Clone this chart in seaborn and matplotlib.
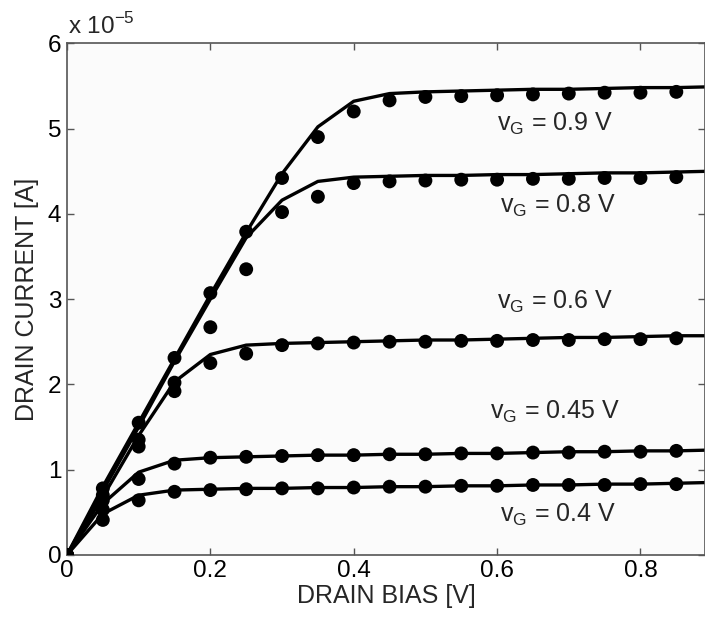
import numpy as np
import pandas as pd
import matplotlib
matplotlib.use("Agg")
import matplotlib.pyplot as plt
import seaborn as sns

# ---- data (current in units of 1e-5 A) ----
gate_labels = ["0.9", "0.8", "0.6", "0.45", "0.4"]

x_model = [0.0, 0.05, 0.1, 0.15, 0.2, 0.25, 0.3, 0.35, 0.4, 0.45,
           0.5, 0.55, 0.6, 0.65, 0.7, 0.75, 0.8, 0.85, 0.9]
model_09 = [0, 0.80, 1.55, 2.30, 3.05, 3.78, 4.47, 5.02, 5.32, 5.41,
            5.43, 5.44, 5.45, 5.46, 5.46, 5.47, 5.48, 5.48, 5.49]
model_08 = [0, 0.75, 1.50, 2.27, 3.00, 3.72, 4.16, 4.38, 4.43, 4.44,
            4.45, 4.45, 4.46, 4.46, 4.47, 4.48, 4.48, 4.49, 4.50]
model_06 = [0, 0.68, 1.40, 2.03, 2.35, 2.46, 2.48, 2.49, 2.50, 2.51,
            2.52, 2.52, 2.53, 2.54, 2.55, 2.55, 2.56, 2.57, 2.57]
model_045 = [0, 0.60, 0.97, 1.11, 1.14, 1.15, 1.16, 1.17, 1.17, 1.18,
             1.18, 1.19, 1.19, 1.20, 1.21, 1.21, 1.22, 1.22, 1.23]
model_04 = [0, 0.48, 0.70, 0.76, 0.77, 0.78, 0.78, 0.79, 0.79, 0.80,
            0.80, 0.81, 0.81, 0.82, 0.82, 0.83, 0.83, 0.84, 0.85]

x_meas = [0.0, 0.05, 0.1, 0.15, 0.2, 0.25, 0.3, 0.35, 0.4, 0.45,
          0.5, 0.55, 0.6, 0.65, 0.7, 0.75, 0.8, 0.85]
meas_09 = [0, 0.78, 1.55, 2.31, 3.07, 3.79, 4.42, 4.90, 5.20, 5.33,
           5.37, 5.38, 5.39, 5.40, 5.41, 5.42, 5.42, 5.43]
meas_08 = [0, 0.70, 1.35, 1.92, 2.67, 3.35, 4.02, 4.20, 4.36, 4.38,
           4.39, 4.40, 4.40, 4.41, 4.41, 4.42, 4.42, 4.43]
meas_06 = [0, 0.64, 1.27, 2.02, 2.25, 2.36, 2.46, 2.48, 2.49, 2.50,
           2.50, 2.51, 2.51, 2.52, 2.52, 2.53, 2.53, 2.54]
meas_045 = [0, 0.53, 0.89, 1.07, 1.14, 1.15, 1.16, 1.17, 1.17, 1.18,
            1.18, 1.19, 1.19, 1.20, 1.20, 1.21, 1.21, 1.22]
meas_04 = [0, 0.41, 0.64, 0.74, 0.76, 0.77, 0.78, 0.78, 0.79, 0.80,
           0.80, 0.81, 0.81, 0.82, 0.82, 0.82, 0.83, 0.83]

label_x = [0.68, 0.685, 0.68, 0.68, 0.685]
label_y = [5.06, 4.09, 2.97, 1.68, 0.47]

x_ticks = [0, 0.2, 0.4, 0.6, 0.8]
y_ticks = [0, 1, 2, 3, 4, 5, 6]

models = [model_09, model_08, model_06, model_045, model_04]
meas = [meas_09, meas_08, meas_06, meas_045, meas_04]

df_model = pd.concat([pd.DataFrame({"x": x_model, "y": m, "vg": g})
                      for m, g in zip(models, gate_labels)], ignore_index=True)
df_meas = pd.concat([pd.DataFrame({"x": x_meas, "y": m, "vg": g})
                     for m, g in zip(meas, gate_labels)], ignore_index=True)

sns.set_theme(style="white")
plt.rcParams["font.family"] = ["Liberation Sans", "DejaVu Sans"]
plt.rcParams["mathtext.fontset"] = "custom"
plt.rcParams["mathtext.rm"] = "Liberation Sans"

fig = plt.figure(figsize=(7.05, 6.27), dpi=100)
ax = fig.add_axes([0.095, 0.115, 0.905, 0.816])
ax.set_facecolor("#fbfbfb")

pal = {g: "black" for g in gate_labels}
sns.lineplot(data=df_model, x="x", y="y", hue="vg", palette=pal,
             linewidth=2.4, legend=False, ax=ax, sort=True, estimator=None)
sns.scatterplot(data=df_meas, x="x", y="y", hue="vg", palette=pal,
                s=100, edgecolor="none", legend=False, ax=ax, zorder=3)

ax.set_xlim(0, 0.89)
ax.set_ylim(0, 6)
ax.set_xticks(x_ticks)
ax.set_xticklabels(["0", "0.2", "0.4", "0.6", "0.8"])
ax.set_yticks(y_ticks)
ax.set_yticklabels([str(v) for v in y_ticks])
ax.tick_params(direction="in", length=5, width=1, colors="#555555",
               labelcolor="black", labelsize=17.5, top=True, right=True,
               bottom=True, left=True, pad=4)
for s in ax.spines.values():
    s.set_color("#555555")
    s.set_linewidth(1.2)

ax.set_xlabel("DRAIN BIAS [V]", fontsize=18, labelpad=1)
ax.set_ylabel("DRAIN CURRENT [A]", fontsize=18, labelpad=6)

for lx, ly, g in zip(label_x, label_y, gate_labels):
    ax.text(lx, ly, r"v$_\mathregular{G}$ = " + g + " V", fontsize=18,
            ha="center", va="center")

fig.text(0.097, 0.958, r"x 10$^\mathregular{-5}$", fontsize=17.5, ha="left",
         va="center")

fig.savefig("out.png", dpi=100)
